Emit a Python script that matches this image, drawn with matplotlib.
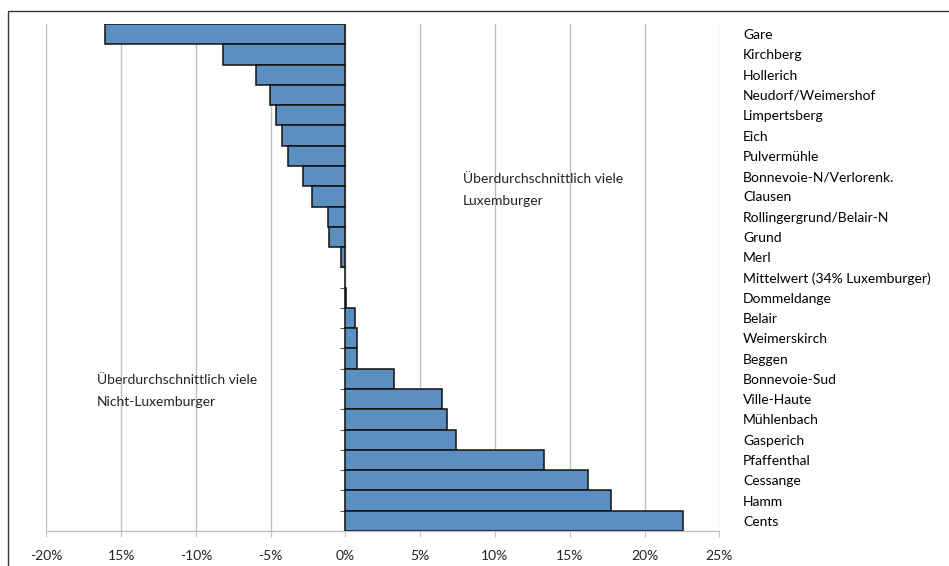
import matplotlib
matplotlib.use("Agg")
import matplotlib.pyplot as plt
from matplotlib.lines import Line2D
from matplotlib.ticker import FixedLocator

plt.rcParams['font.family'] = ['Lato', 'DejaVu Sans']

# Abweichung des Luxemburger-Anteils vom Mittelwert (Prozentpunkte)
quartiers = [
    "Gare", "Kirchberg", "Hollerich", "Neudorf/Weimershof", "Limpertsberg",
    "Eich", "Pulvermühle", "Bonnevoie-N/Verlorenk.", "Clausen",
    "Rollingergrund/Belair-N", "Grund", "Merl", "Mittelwert (34% Luxemburger)",
    "Dommeldange", "Belair", "Weimerskirch", "Beggen", "Bonnevoie-Sud",
    "Ville-Haute", "Mühlenbach", "Gasperich", "Pfaffenthal", "Cessange",
    "Hamm", "Cents",
]
abweichung = [
    -16.1, -8.2, -6.0, -5.05, -4.67,
    -4.27, -3.87, -2.84, -2.26,
    -1.17, -1.08, -0.30, 0.0,
    0.05, 0.64, 0.79, 0.79, 3.22,
    6.43, 6.76, 7.39, 13.27, 16.21,
    17.73, 22.6,
]
x_ticks = [-20, -15, -10, -5, 0, 5, 10, 15, 20, 25]
x_ticklabels = ["-20%", "15%", "-10%", "-5%", "0%", "5%", "10%", "15%", "20%", "25%"]

W, H = 949, 566
fig = plt.figure(figsize=(W / 100, H / 100), dpi=100)
ax = fig.add_axes([46.3 / W, 1 - 531 / H, (719.3 - 46.3) / W, (531 - 24) / H])

n = len(quartiers)
pos = list(range(n))
ax.barh(pos, abweichung, height=1.0, color="#5B8FC2", edgecolor="#111111",
        linewidth=1.1, zorder=3)

ax.set_xlim(-20, 25)
ax.set_ylim(n - 0.5, -0.5)

# vertical gridlines
ax.set_xticks(x_ticks)
ax.set_xticklabels(x_ticklabels, fontsize=10, color="#222222")
ax.xaxis.grid(True, color="#C0C0C0", linewidth=1.0, zorder=0)
ax.tick_params(axis='x', length=4, color="#C0C0C0", pad=10)

# category labels on the right, boundary ticks on the zero line
ax.set_yticks(pos)
ax.set_yticklabels(quartiers, fontsize=10, color="#222222")
ax.tick_params(axis='y', which='major', left=False, right=False,
               labelleft=False, labelright=True, pad=13.5)
ax.yaxis.set_minor_locator(FixedLocator([i - 0.5 for i in range(n + 1)]))
ax.tick_params(axis='y', which='minor', left=True, right=False,
               length=3.5, width=0.8, color="#555555", direction='out')

ax.spines['left'].set_position(('data', 0))
ax.spines['left'].set_color("#C0C0C0")
ax.spines['left'].set_linewidth(0.8)
ax.spines['top'].set_visible(False)
ax.spines['right'].set_visible(False)
ax.spines['bottom'].set_color("#C0C0C0")
ax.spines['bottom'].set_linewidth(1.0)

ax.text(7.85, 7.68, "Überdurchschnittlich viele\nLuxemburger", fontsize=10,
        color="#222222", linespacing=1.95, va='center', ha='left', zorder=4)
ax.text(-16.6, 17.6, "Überdurchschnittlich viele\nNicht-Luxemburger", fontsize=10,
        color="#222222", linespacing=1.95, va='center', ha='left', zorder=4)

# chart frame (left and top edges)
fig.add_artist(Line2D([8 / W, 8 / W, 1.0], [0.0, 1 - 11 / H, 1 - 11 / H],
                      transform=fig.transFigure, color="#333333", linewidth=1.0))

fig.savefig("out.png", dpi=100)
